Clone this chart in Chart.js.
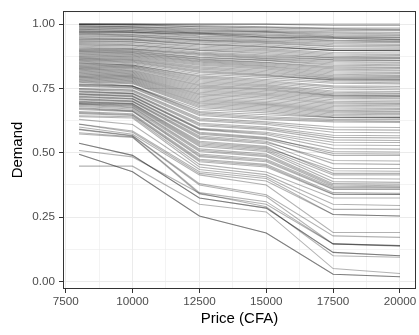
<!DOCTYPE html>
<html>
<head>
<meta charset="utf-8">
<script src="https://cdn.jsdelivr.net/npm/chart.js@4.4.1/dist/chart.umd.min.js"></script>
<style>
  html, body { margin: 0; padding: 0; background: #ffffff; }
  canvas { display: block; }
</style>
</head>
<body>
<canvas id="demandChart" width="419" height="335"></canvas>
<script>
// price points asked in the survey
var prices = [8000, 10000, 12500, 15000, 17500, 20000];
var priceTicks = [7500, 10000, 12500, 15000, 17500, 20000];
var demandTicks = [0, 0.25, 0.5, 0.75, 1];

// one row per respondent: demand at each price
var demandTop = [
  [1.000, 1.000, 1.000, 1.000, 1.000, 1.000],
  [1.000, 1.000, 1.000, 1.000, 0.995, 0.995],
  [1.000, 1.000, 0.995, 0.990, 0.985, 0.985],
  [1.000, 0.998, 0.990, 0.985, 0.980, 0.978],
  [0.998, 0.995, 0.990, 0.988, 0.982, 0.980],
  [0.995, 0.990, 0.985, 0.980, 0.975, 0.975],
  [0.992, 0.990, 0.982, 0.975, 0.970, 0.968],
  [0.990, 0.988, 0.978, 0.972, 0.965, 0.962],
  [0.988, 0.985, 0.975, 0.970, 0.960, 0.958],
  [0.985, 0.982, 0.972, 0.968, 0.955, 0.955],
  [0.982, 0.980, 0.968, 0.962, 0.952, 0.950],
  [0.980, 0.975, 0.965, 0.958, 0.950, 0.948],
  [0.978, 0.975, 0.965, 0.955, 0.948, 0.945],
  [0.975, 0.970, 0.962, 0.950, 0.945, 0.940],
  [0.972, 0.970, 0.955, 0.948, 0.938, 0.935],
  [0.970, 0.968, 0.960, 0.950, 0.945, 0.940],
  [0.968, 0.965, 0.952, 0.945, 0.935, 0.932],
  [0.965, 0.960, 0.948, 0.940, 0.930, 0.928],
  [0.962, 0.958, 0.945, 0.935, 0.925, 0.922],
  [0.960, 0.955, 0.940, 0.932, 0.920, 0.918],
  [0.956, 0.952, 0.938, 0.928, 0.915, 0.915],
  [0.952, 0.950, 0.935, 0.925, 0.912, 0.910],
  [0.948, 0.945, 0.930, 0.920, 0.905, 0.904],
  [0.945, 0.942, 0.925, 0.915, 0.898, 0.898],
  [0.942, 0.940, 0.922, 0.912, 0.898, 0.898],
  [0.940, 0.938, 0.920, 0.910, 0.898, 0.896],
  [0.936, 0.932, 0.915, 0.905, 0.890, 0.888],
  [0.932, 0.930, 0.910, 0.900, 0.885, 0.882],
  [0.928, 0.925, 0.905, 0.895, 0.880, 0.878],
  [0.925, 0.920, 0.900, 0.890, 0.875, 0.872],
  [0.921, 0.918, 0.898, 0.885, 0.870, 0.868],
  [0.918, 0.915, 0.892, 0.880, 0.868, 0.868],
  [0.914, 0.910, 0.888, 0.876, 0.862, 0.860],
  [0.910, 0.905, 0.885, 0.872, 0.860, 0.858],
  [0.906, 0.903, 0.882, 0.868, 0.855, 0.852],
  [0.903, 0.900, 0.878, 0.865, 0.850, 0.848]
];

var demandUpper = [
  [0.900, 0.896, 0.872, 0.860, 0.845, 0.842],
  [0.897, 0.893, 0.870, 0.858, 0.840, 0.838],
  [0.894, 0.890, 0.865, 0.852, 0.835, 0.832],
  [0.892, 0.888, 0.862, 0.850, 0.830, 0.828],
  [0.889, 0.885, 0.858, 0.846, 0.825, 0.822],
  [0.886, 0.882, 0.855, 0.842, 0.820, 0.818],
  [0.883, 0.879, 0.852, 0.838, 0.815, 0.812],
  [0.880, 0.876, 0.848, 0.835, 0.810, 0.808],
  [0.877, 0.873, 0.844, 0.830, 0.805, 0.802],
  [0.874, 0.870, 0.840, 0.825, 0.800, 0.798],
  [0.871, 0.866, 0.835, 0.820, 0.795, 0.794],
  [0.868, 0.862, 0.830, 0.815, 0.790, 0.790],
  [0.865, 0.859, 0.825, 0.810, 0.788, 0.786],
  [0.862, 0.856, 0.820, 0.805, 0.784, 0.784],
  [0.859, 0.853, 0.816, 0.802, 0.780, 0.778],
  [0.856, 0.850, 0.812, 0.798, 0.784, 0.782],
  [0.853, 0.846, 0.806, 0.792, 0.775, 0.772],
  [0.850, 0.841, 0.800, 0.785, 0.770, 0.768],
  [0.848, 0.841, 0.795, 0.780, 0.760, 0.758],
  [0.845, 0.838, 0.790, 0.775, 0.755, 0.752],
  [0.842, 0.836, 0.785, 0.770, 0.748, 0.745],
  [0.839, 0.833, 0.780, 0.765, 0.740, 0.738],
  [0.836, 0.830, 0.775, 0.760, 0.735, 0.732],
  [0.833, 0.826, 0.770, 0.755, 0.730, 0.728],
  [0.830, 0.822, 0.765, 0.750, 0.725, 0.722],
  [0.827, 0.819, 0.760, 0.746, 0.722, 0.720],
  [0.824, 0.816, 0.755, 0.742, 0.720, 0.720],
  [0.821, 0.813, 0.750, 0.737, 0.716, 0.714],
  [0.818, 0.810, 0.745, 0.732, 0.712, 0.710],
  [0.815, 0.807, 0.740, 0.727, 0.706, 0.704],
  [0.812, 0.804, 0.735, 0.722, 0.700, 0.698],
  [0.809, 0.801, 0.730, 0.717, 0.695, 0.692],
  [0.806, 0.798, 0.725, 0.712, 0.690, 0.688],
  [0.803, 0.795, 0.720, 0.706, 0.685, 0.683],
  [0.800, 0.792, 0.715, 0.700, 0.680, 0.678],
  [0.797, 0.789, 0.710, 0.695, 0.675, 0.672],
  [0.794, 0.786, 0.705, 0.690, 0.670, 0.668],
  [0.791, 0.783, 0.700, 0.686, 0.665, 0.662],
  [0.788, 0.780, 0.695, 0.682, 0.660, 0.658],
  [0.785, 0.777, 0.690, 0.677, 0.655, 0.652],
  [0.782, 0.774, 0.685, 0.672, 0.650, 0.648],
  [0.779, 0.771, 0.680, 0.667, 0.645, 0.642],
  [0.776, 0.768, 0.675, 0.662, 0.640, 0.637],
  [0.774, 0.760, 0.668, 0.655, 0.637, 0.637],
  [0.768, 0.759, 0.660, 0.648, 0.637, 0.635],
  [0.765, 0.759, 0.655, 0.640, 0.630, 0.630],
  [0.762, 0.755, 0.650, 0.635, 0.625, 0.622],
  [0.758, 0.752, 0.645, 0.630, 0.620, 0.618]
];

var demandMiddle = [
  [0.750, 0.745, 0.635, 0.620, 0.600, 0.598],
  [0.748, 0.742, 0.630, 0.615, 0.590, 0.588],
  [0.745, 0.738, 0.625, 0.610, 0.580, 0.578],
  [0.740, 0.732, 0.615, 0.600, 0.568, 0.566],
  [0.738, 0.730, 0.610, 0.595, 0.560, 0.558],
  [0.735, 0.728, 0.605, 0.590, 0.550, 0.548],
  [0.730, 0.722, 0.595, 0.580, 0.541, 0.540],
  [0.728, 0.720, 0.592, 0.575, 0.530, 0.528],
  [0.725, 0.718, 0.590, 0.570, 0.516, 0.514],
  [0.720, 0.712, 0.580, 0.560, 0.497, 0.495],
  [0.718, 0.710, 0.576, 0.556, 0.505, 0.503],
  [0.715, 0.708, 0.572, 0.552, 0.490, 0.490],
  [0.710, 0.702, 0.565, 0.545, 0.458, 0.455],
  [0.708, 0.700, 0.560, 0.540, 0.470, 0.468],
  [0.705, 0.698, 0.555, 0.535, 0.439, 0.439],
  [0.700, 0.692, 0.545, 0.525, 0.420, 0.420],
  [0.698, 0.690, 0.540, 0.520, 0.430, 0.428],
  [0.695, 0.688, 0.535, 0.515, 0.414, 0.414],
  [0.692, 0.685, 0.530, 0.510, 0.400, 0.398],
  [0.690, 0.682, 0.525, 0.505, 0.388, 0.385],
  [0.688, 0.678, 0.515, 0.495, 0.380, 0.378],
  [0.684, 0.675, 0.510, 0.490, 0.375, 0.372],
  [0.680, 0.670, 0.505, 0.485, 0.370, 0.368],
  [0.675, 0.665, 0.495, 0.475, 0.365, 0.365],
  [0.672, 0.662, 0.490, 0.470, 0.360, 0.360],
  [0.668, 0.660, 0.485, 0.465, 0.357, 0.357],
  [0.660, 0.652, 0.475, 0.455, 0.345, 0.342],
  [0.656, 0.648, 0.470, 0.450, 0.340, 0.338],
  [0.652, 0.645, 0.465, 0.445, 0.338, 0.338]
];

var demandLower = [
  [0.644, 0.640, 0.455, 0.425, 0.324, 0.324],
  [0.640, 0.635, 0.445, 0.415, 0.300, 0.295],
  [0.630, 0.610, 0.435, 0.407, 0.280, 0.280],
  [0.612, 0.585, 0.426, 0.400, 0.260, 0.254],
  [0.611, 0.580, 0.420, 0.390, 0.260, 0.254],
  [0.600, 0.572, 0.414, 0.375, 0.190, 0.190],
  [0.592, 0.567, 0.380, 0.337, 0.177, 0.171],
  [0.590, 0.565, 0.375, 0.330, 0.146, 0.139],
  [0.578, 0.562, 0.345, 0.310, 0.146, 0.139],
  [0.573, 0.560, 0.340, 0.300, 0.146, 0.137],
  [0.537, 0.490, 0.324, 0.285, 0.113, 0.100],
  [0.537, 0.490, 0.324, 0.285, 0.113, 0.100],
  [0.509, 0.484, 0.343, 0.290, 0.100, 0.094],
  [0.494, 0.426, 0.254, 0.188, 0.028, 0.018],
  [0.494, 0.426, 0.254, 0.188, 0.028, 0.018],
  [0.448, 0.448, 0.300, 0.270, 0.050, 0.031]
];

var respondents = demandTop.concat(demandUpper, demandMiddle, demandLower);

var datasets = respondents.map(function (row) {
    return {
        data: prices.map(function (p, i) { return { x: p, y: row[i] }; }),
        borderColor: 'rgba(0, 0, 0, 0.3)',
        borderWidth: 1.1,
        pointRadius: 0,
        tension: 0
    };
});

// major grid at the labelled ticks, minor grid halfway between them
function withMinor(majors) {
    var out = [];
    majors.forEach(function (v, i) {
        out.push(v);
        if (i < majors.length - 1) out.push((v + majors[i + 1]) / 2);
    });
    return out;
}
var xGrid = withMinor(priceTicks);
var yGrid = withMinor(demandTicks);

function isMajor(list, ctx) {
    return ctx.tick && list.indexOf(ctx.tick.value) !== -1;
}

var tickFont = { family: 'Liberation Sans, Arial, sans-serif', size: 11.7 };
var titleFont = { family: 'Liberation Sans, Arial, sans-serif', size: 15 };

// panel border drawn on top, like theme_bw
var panelBorder = {
    id: 'panelBorder',
    afterDraw: function (chart) {
        var a = chart.chartArea;
        var ctx = chart.ctx;
        ctx.save();
        ctx.strokeStyle = '#333333';
        ctx.lineWidth = 1;
        ctx.strokeRect(a.left + 0.5, a.top + 0.5, a.right - a.left - 1, a.bottom - a.top - 1);
        ctx.restore();
    }
};

new Chart(document.getElementById('demandChart'), {
    type: 'line',
    data: { datasets: datasets },
    plugins: [panelBorder],
    options: {
        responsive: false,
        animation: false,
        layout: { padding: { top: 7, right: 3, left: 0, bottom: 0 } },
        plugins: {
            legend: { display: false },
            tooltip: { enabled: false }
        },
        scales: {
            x: {
                type: 'linear',
                min: 7400,
                max: 20600,
                afterBuildTicks: function (scale) {
                    scale.ticks = xGrid.map(function (v) { return { value: v }; });
                },
                afterFit: function (scale) { scale.height = 46; },
                ticks: {
                    autoSkip: false,
                    maxRotation: 0,
                    padding: 2,
                    color: '#4d4d4d',
                    font: tickFont,
                    callback: function (v) { return priceTicks.indexOf(v) !== -1 ? String(v) : ''; }
                },
                grid: {
                    color: '#ebebeb',
                    lineWidth: function (ctx) { return isMajor(priceTicks, ctx) ? 1 : 0.6; },
                    tickLength: 4,
                    tickWidth: 1,
                    tickColor: function (ctx) { return isMajor(priceTicks, ctx) ? '#333333' : 'rgba(0,0,0,0)'; }
                },
                border: { display: false },
                title: {
                    display: true,
                    text: 'Price (CFA)',
                    color: '#000000',
                    font: titleFont,
                    padding: { top: 0, bottom: 7 }
                }
            },
            y: {
                type: 'linear',
                min: -0.0295,
                max: 1.051,
                afterBuildTicks: function (scale) {
                    scale.ticks = yGrid.map(function (v) { return { value: v }; });
                },
                afterFit: function (scale) { scale.width = 63; },
                ticks: {
                    autoSkip: false,
                    padding: 4,
                    color: '#4d4d4d',
                    font: tickFont,
                    callback: function (v) { return demandTicks.indexOf(v) !== -1 ? v.toFixed(2) : ''; }
                },
                grid: {
                    color: '#ebebeb',
                    lineWidth: function (ctx) { return isMajor(demandTicks, ctx) ? 1 : 0.6; },
                    tickLength: 4,
                    tickWidth: 1,
                    tickColor: function (ctx) { return isMajor(demandTicks, ctx) ? '#333333' : 'rgba(0,0,0,0)'; }
                },
                border: { display: false },
                title: {
                    display: true,
                    text: 'Demand',
                    color: '#000000',
                    font: titleFont,
                    padding: { top: 9, bottom: 0 }
                }
            }
        }
    }
});
</script>
</body>
</html>
